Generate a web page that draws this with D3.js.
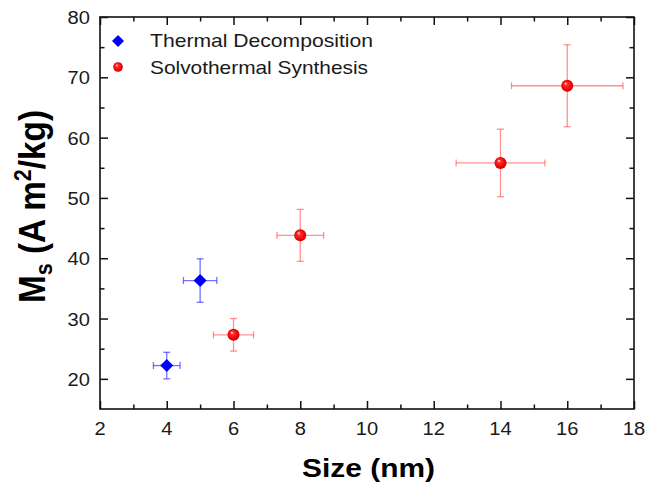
<!DOCTYPE html>
<html>
<head>
<meta charset="utf-8">
<script src="https://cdn.jsdelivr.net/npm/d3@7"></script>
<style>
  body { margin: 0; background: #fff; }
  text { font-family: "Liberation Sans", Arial, sans-serif; }
</style>
</head>
<body>
<script>
// data
var tdSize = [4, 5];
var tdMs = [22.2, 36.3];
var tdSizeErr = [0.4, 0.5];
var tdMsErr = [2.2, 3.6];

var stSize = [6, 8, 14, 16];
var stMs = [27.3, 43.8, 55.8, 68.6];
var stSizeErr = [0.6, 0.7, 1.33, 1.67];
var stMsErr = [2.7, 4.3, 5.6, 6.8];

var xTicks = [2, 4, 6, 8, 10, 12, 14, 16, 18];
var yTicks = [20, 30, 40, 50, 60, 70, 80];

var width = 646, height = 487;
var svg = d3.select("body").append("svg").attr("width", width).attr("height", height);

var x = d3.scaleLinear().domain([2, 18]).range([100, 634]);
var y = d3.scaleLinear().domain([15, 80]).range([409, 17]);
var sx = 1.06; // glyphs in the picture are a little wider than tall

var defs = svg.append("defs");
var grad = defs.append("radialGradient").attr("id", "ball")
    .attr("cx", "50%").attr("cy", "50%").attr("r", "55%")
    .attr("fx", "35%").attr("fy", "30%");
grad.append("stop").attr("offset", "0%").attr("stop-color", "#fff");
grad.append("stop").attr("offset", "25%").attr("stop-color", "#ff3030");
grad.append("stop").attr("offset", "75%").attr("stop-color", "#f00000");
grad.append("stop").attr("offset", "100%").attr("stop-color", "#b00000");

// ticks (inward, on all four sides)
function ticksOn(axis, pos, minorVals, majorVals) {
  var g = svg.append("g").attr("transform", pos);
  g.call(axis.tickValues(minorVals).tickSize(-4.5).tickFormat(""));
  g.select(".domain").remove();
  var g2 = svg.append("g").attr("transform", pos);
  g2.call(axis.tickValues(majorVals).tickSize(-8).tickFormat(""));
  g2.select(".domain").remove();
  svg.selectAll(".tick line").attr("stroke", "#111").attr("stroke-width", 1.5);
}
var xMinor = d3.range(3, 18, 2), yMinor = d3.range(25, 80, 10);
ticksOn(d3.axisBottom(x), "translate(0,409)", xMinor, xTicks);
ticksOn(d3.axisTop(x), "translate(0,17)", xMinor, xTicks);
ticksOn(d3.axisLeft(y), "translate(100,0)", yMinor, yTicks);
ticksOn(d3.axisRight(y), "translate(634,0)", yMinor, yTicks);
svg.selectAll(".tick text").remove();

svg.append("rect").attr("x", 100).attr("y", 17).attr("width", 534).attr("height", 392)
    .attr("fill", "none").attr("stroke", "#111").attr("stroke-width", 1.6);

// tick labels
svg.append("g").selectAll("text").data(xTicks).enter().append("text")
    .attr("transform", function(d) { return "translate(" + x(d) + ",435) scale(" + sx + ",1)"; })
    .attr("text-anchor", "middle").attr("font-size", 19).attr("fill", "#1a1a1a")
    .text(function(d) { return d; });
svg.append("g").selectAll("text").data(yTicks).enter().append("text")
    .attr("transform", function(d) { return "translate(90," + (y(d) + 7) + ") scale(" + sx + ",1)"; })
    .attr("text-anchor", "end").attr("font-size", 19).attr("fill", "#1a1a1a")
    .text(function(d) { return d; });

// axis titles
svg.append("text").attr("x", 302).attr("y", 477).attr("font-size", 26).attr("font-weight", "bold")
    .attr("textLength", 133).attr("lengthAdjust", "spacingAndGlyphs")
    .text("Size (nm)");

var yt = svg.append("text")
    .attr("transform", "translate(45,303) rotate(-90) scale(1,1.2)")
    .attr("font-size", 31).attr("font-weight", "bold")
    .attr("textLength", 193).attr("lengthAdjust", "spacingAndGlyphs");
yt.append("tspan").text("M");
yt.append("tspan").attr("font-size", 20).attr("dy", 6).text("s");
yt.append("tspan").attr("dy", -6).text(" (A m");
yt.append("tspan").attr("font-size", 20).attr("dy", -12).text("2");
yt.append("tspan").attr("dy", 12).text("/kg)");

// error bars
function errorBars(xs, ys, xe, ye, color) {
  var g = svg.append("g").attr("stroke", color).attr("stroke-width", 1.3).attr("fill", "none");
  var cap = 3.5;
  xs.forEach(function(v, i) {
    var cx = x(v), cy = y(ys[i]);
    var x0 = x(v - xe[i]), x1 = x(v + xe[i]);
    var y0 = y(ys[i] - ye[i]), y1 = y(ys[i] + ye[i]);
    g.append("line").attr("x1", x0).attr("x2", x1).attr("y1", cy).attr("y2", cy);
    g.append("line").attr("x1", cx).attr("x2", cx).attr("y1", y0).attr("y2", y1);
    g.append("line").attr("x1", x0).attr("x2", x0).attr("y1", cy - cap).attr("y2", cy + cap);
    g.append("line").attr("x1", x1).attr("x2", x1).attr("y1", cy - cap).attr("y2", cy + cap);
    g.append("line").attr("x1", cx - cap).attr("x2", cx + cap).attr("y1", y0).attr("y2", y0);
    g.append("line").attr("x1", cx - cap).attr("x2", cx + cap).attr("y1", y1).attr("y2", y1);
  });
}
errorBars(tdSize, tdMs, tdSizeErr, tdMsErr, "rgba(40,40,255,0.65)");
errorBars(stSize, stMs, stSizeErr, stMsErr, "rgba(255,40,40,0.5)");

var diamond = "M0,-6.5L6.5,0L0,6.5L-6.5,0Z";
svg.append("g").selectAll("path").data(tdSize).enter().append("path")
    .attr("d", diamond).attr("fill", "#0000ff")
    .attr("transform", function(d, i) { return "translate(" + x(d) + "," + y(tdMs[i]) + ")"; });
svg.append("g").selectAll("circle").data(stSize).enter().append("circle")
    .attr("cx", function(d) { return x(d); })
    .attr("cy", function(d, i) { return y(stMs[i]); })
    .attr("r", 6).attr("fill", "url(#ball)");

// legend
svg.append("path").attr("d", diamond).attr("fill", "#0000ff").attr("transform", "translate(118,41) scale(0.92)");
svg.append("circle").attr("cx", 118).attr("cy", 67).attr("r", 4.8).attr("fill", "url(#ball)");
svg.append("text").attr("x", 150).attr("y", 47).attr("font-size", 18.5).attr("fill", "#1a1a1a")
    .attr("textLength", 223).attr("lengthAdjust", "spacingAndGlyphs").text("Thermal Decomposition");
svg.append("text").attr("x", 150).attr("y", 73.5).attr("font-size", 18.5).attr("fill", "#1a1a1a")
    .attr("textLength", 218).attr("lengthAdjust", "spacingAndGlyphs").text("Solvothermal Synthesis");
</script>
</body>
</html>
